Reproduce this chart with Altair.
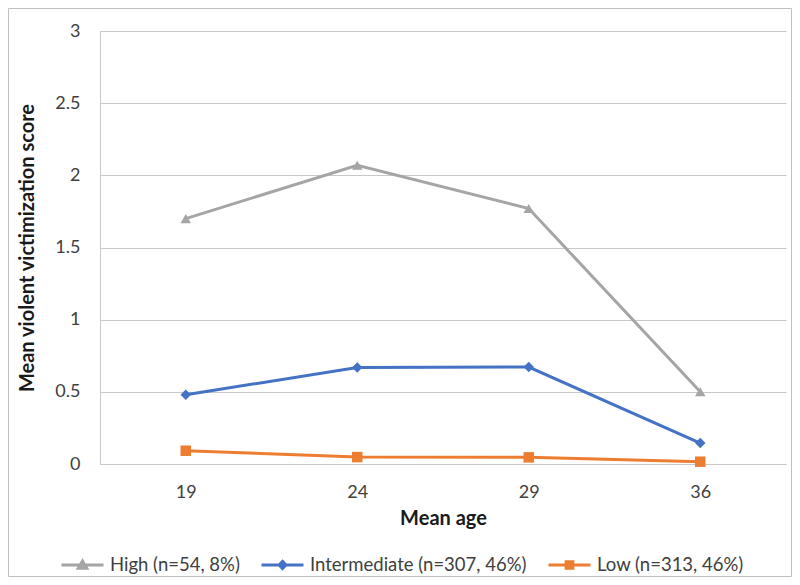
import altair as alt
import pandas as pd

ages = ["19", "24", "29", "36"]
series_names = ["High (n=54, 8%)", "Intermediate (n=307, 46%)", "Low (n=313, 46%)"]
high = [1.70, 2.07, 1.77, 0.50]
intermediate = [0.48, 0.668, 0.672, 0.145]
low = [0.092, 0.048, 0.046, 0.016]
y_ticks = [0, 0.5, 1, 1.5, 2, 2.5, 3]

colors = ["#A5A5A5", "#4472C4", "#ED7D31"]
markers = ["triangle-up", "diamond", "square"]
legend_paths = [
    "M-1,0L1,0M0,-0.19L0.2,0.15L-0.2,0.15Z",
    "M-1,0L1,0M0,-0.17L0.16,0L0,0.17L-0.16,0Z",
    "M-1,0L1,0M-0.16,-0.16L0.16,-0.16L0.16,0.16L-0.16,0.16Z",
]

rows = []
for name, vals in zip(series_names, [high, intermediate, low]):
    for a, v in zip(ages, vals):
        rows.append({"age": a, "score": v, "series": name})
df = pd.DataFrame(rows)

FONT = "Lato"
W, H = 686, 433
PL, PT, PR, PB = 92, 23, 6, 113

x_enc = alt.X(
    "age:N",
    sort=ages,
    scale=alt.Scale(domain=ages, padding=0.5),
    axis=alt.Axis(
        title="Mean age",
        labelAngle=0,
        ticks=False,
        grid=False,
        domain=True,
        domainColor="#C8C8C8",
        labelFontSize=18,
        labelColor="#404040",
        labelPadding=19,
        titleFontSize=20,
        titleFontWeight="bold",
        titleColor="#1a1a1a",
        titlePadding=7,
        labelFont=FONT,
        titleFont=FONT,
    ),
)
y_enc = alt.Y(
    "score:Q",
    scale=alt.Scale(domain=[0, 3], nice=False),
    axis=alt.Axis(
        title="Mean violent victimization score",
        values=y_ticks,
        labelExpr="datum.value + ''",
        ticks=False,
        grid=True,
        gridColor="#C8C8C8",
        domain=True,
        domainColor="#C8C8C8",
        labelFontSize=18,
        labelColor="#404040",
        labelPadding=20,
        titleFontSize=20,
        titleFontWeight="bold",
        titleColor="#1a1a1a",
        titleX=-63,
        labelFont=FONT,
        titleFont=FONT,
    ),
)
color_scale = alt.Scale(domain=series_names, range=colors)

base = alt.Chart(df)

lines = base.mark_line(strokeWidth=3).encode(
    x=x_enc,
    y=y_enc,
    color=alt.Color("series:N", scale=color_scale, legend=None),
    detail="series:N",
)

points = base.mark_point(filled=True, opacity=1, size=110).encode(
    x=alt.X("age:N", sort=ages),
    y=alt.Y("score:Q"),
    color=alt.Color("series:N", scale=color_scale, legend=None),
    shape=alt.Shape("series:N", scale=alt.Scale(domain=series_names, range=markers), legend=None),
)

legend_layer = base.transform_filter("false").mark_point(filled=True, strokeWidth=3, opacity=1).encode(
    x=alt.X("age:N", sort=ages),
    y=alt.Y("score:Q"),
    color=alt.Color(
        "series:N",
        scale=color_scale,
        legend=alt.Legend(
            title=None,
            orient="none",
            legendX=-40,
            legendY=511,
            direction="horizontal",
            symbolSize=1764,
            symbolStrokeWidth=3,
            labelFontSize=18.5,
            labelFont=FONT,
            labelColor="#404040",
            labelLimit=400,
            labelOffset=5,
            columnPadding=15,
        ),
    ),
    stroke=alt.Stroke("series:N", scale=color_scale, legend=alt.Legend(title=None)),
    shape=alt.Shape(
        "series:N",
        scale=alt.Scale(domain=series_names, range=legend_paths),
        legend=alt.Legend(title=None),
    ),
)

border = alt.Chart(pd.DataFrame({"k": [0]})).mark_rect(
    fill="transparent", stroke="#BFBFBF", strokeWidth=1
).encode(
    x=alt.value(-PL + 0.5),
    x2=alt.value(W + PR - 0.5),
    y=alt.value(-PT + 0.5),
    y2=alt.value(H + PB - 0.5),
)

chart = (
    alt.layer(border, lines, points, legend_layer)
    .resolve_scale(color="independent", shape="independent", stroke="independent")
    .properties(
        width=W,
        height=H,
        autosize=alt.AutoSizeParams(type="none"),
        padding={"left": PL, "top": PT, "right": PR, "bottom": PB},
        background="white",
    )
    .configure_view(stroke=None)
)

chart.save("out.html", embed_options={"renderer": "svg", "actions": False})
